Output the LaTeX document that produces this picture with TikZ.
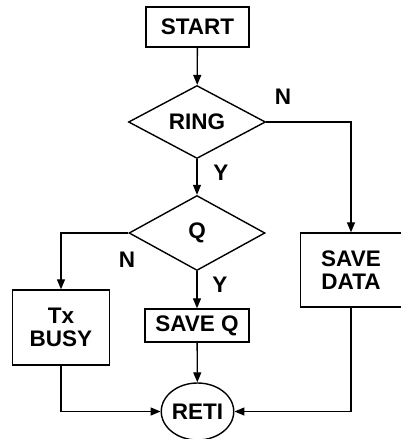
\documentclass[tikz,border=0pt]{standalone}
\usepackage{fontspec}
\setmainfont{Liberation Sans}
\usetikzlibrary{shapes.geometric,arrows.meta}
\begin{document}
\begin{tikzpicture}[x=1pt,y=-1pt,
  every node/.style={font=\bfseries\fontsize{22.5}{23}\selectfont, inner sep=0pt, align=center},
  box/.style={draw, line width=1.4pt, rectangle},
  dec/.style={draw, line width=1.4pt, diamond, aspect=1.9},
  term/.style={draw, line width=1.4pt, ellipse},
  lbl/.style={font=\bfseries\fontsize{22.5}{23}\selectfont},
  arr/.style={line width=1.3pt, -{Triangle[length=10pt,width=8pt]}}]
\useasboundingbox (0,0) rectangle (401,439);
\node[box, minimum width=103pt, minimum height=40pt] (start) at (197.5,27) {START};
\node[dec, minimum width=137pt, minimum height=73pt] (ring) at (197,122) {RING};
\node[dec, minimum width=136pt, minimum height=75pt] (q) at (197,233) {Q};
\node[box, minimum width=97pt, minimum height=75pt] (busy) at (61,327.5) {Tx\\BUSY};
\node[box, minimum width=104pt, minimum height=33pt] (saveq) at (197,325.5) {SAVE Q};
\node[box, minimum width=101pt, minimum height=74pt] (savedata) at (351,270) {SAVE\\DATA};
\node[term, minimum width=72pt, minimum height=57pt] (reti) at (197.5,411.5) {RETI};
\node[lbl] (nring) at (283,97) {N};
\node[lbl] (yring) at (221,173) {Y};
\node[lbl] (nq) at (127,260) {N};
\node[lbl] (yq) at (220,285) {Y};
\draw[arr] (start) -- (ring);
\draw[arr] (ring.east) -| (savedata.north);
\draw[arr] (ring) -- (q);
\draw[arr] (q.west) -| (busy.north);
\draw[arr] (q) -- (saveq);
\draw[arr] (saveq) -- (reti);
\draw[arr] (busy.south) |- (reti.west);
\draw[arr] (savedata.south) |- (reti.east);
\end{tikzpicture}
\end{document}
